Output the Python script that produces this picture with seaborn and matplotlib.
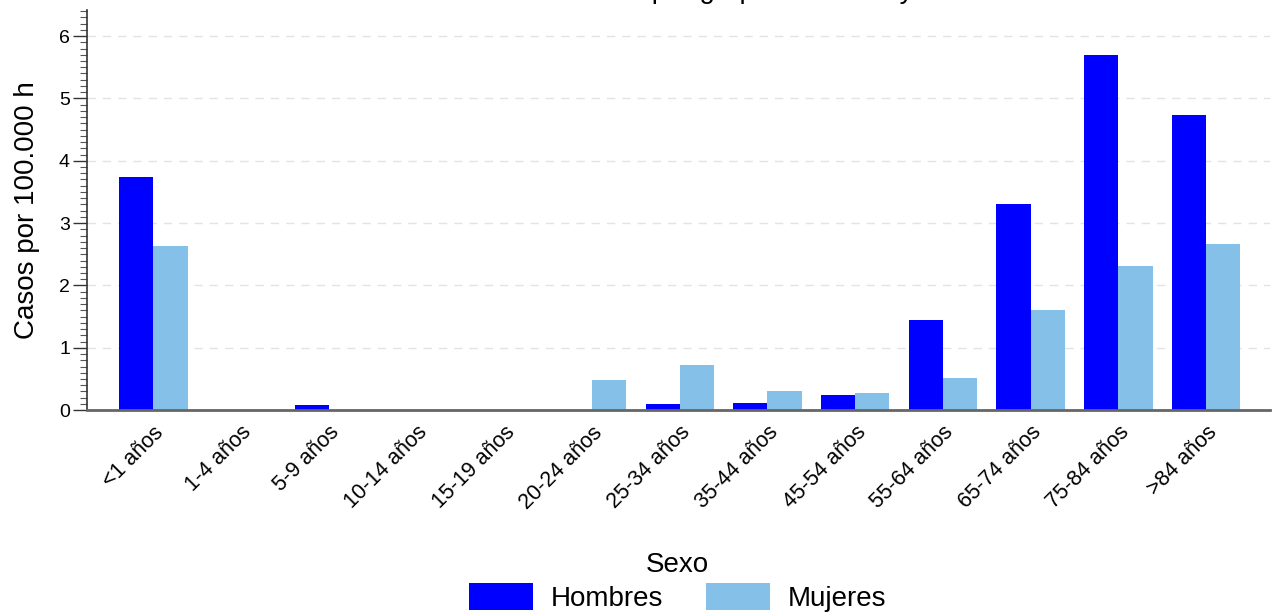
import matplotlib
matplotlib.use("Agg")
import matplotlib.pyplot as plt
import seaborn as sns
import pandas as pd
from matplotlib.ticker import MultipleLocator

categories = ["<1 años", "1-4 años", "5-9 años", "10-14 años", "15-19 años",
              "20-24 años", "25-34 años", "35-44 años", "45-54 años",
              "55-64 años", "65-74 años", "75-84 años", ">84 años"]
hombres = [3.74, 0.0, 0.08, 0.0, 0.0, 0.0, 0.10, 0.11, 0.24, 1.45, 3.30, 5.70, 4.74]
mujeres = [2.64, 0.0, 0.0, 0.0, 0.0, 0.48, 0.72, 0.30, 0.28, 0.51, 1.61, 2.31, 2.66]
series = ["Hombres", "Mujeres"]
colors = ["#0000FF", "#85C0E8"]

df = pd.DataFrame({
    "Grupo": categories * 2,
    "Sexo": [series[0]] * len(categories) + [series[1]] * len(categories),
    "Valor": hombres + mujeres,
})

sns.set_theme(style="white")
plt.rcParams["font.family"] = ["Liberation Sans", "DejaVu Sans"]
plt.rcParams["text.color"] = "black"
plt.rcParams["axes.labelcolor"] = "black"
plt.rcParams["xtick.color"] = "black"
plt.rcParams["ytick.color"] = "black"

fig = plt.figure(figsize=(12.74, 6.15), dpi=100)
ax = fig.add_axes([0.068, 0.333, 0.929, 0.651])

sns.barplot(data=df, x="Grupo", y="Valor", hue="Sexo", order=categories,
            hue_order=series, palette=colors, width=0.78, ax=ax,
            edgecolor="none", linewidth=0, saturation=1)

ax.set_xlim(-0.76, 12.73)
ax.set_ylim(0, 6.42)
ax.yaxis.set_major_locator(MultipleLocator(1))
ax.yaxis.set_minor_locator(MultipleLocator(0.1))
ax.tick_params(axis="y", which="major", left=True, length=10, width=1, color="#333333",
               labelsize=14, pad=2)
ax.tick_params(axis="y", which="minor", left=True, length=5, width=0.8, color="#555555")
ax.tick_params(axis="x", which="both", bottom=False, labelsize=15.5, pad=2.5)
for lab in ax.get_xticklabels():
    lab.set_rotation(45)
    lab.set_ha("right")
    lab.set_va("top")
    lab.set_rotation_mode("anchor")

ax.grid(axis="y", which="major", linestyle=(0, (6, 5)), color="#e3e3e3", linewidth=1)
ax.set_axisbelow(True)
for s in ["top", "right"]:
    ax.spines[s].set_visible(False)
ax.spines["left"].set_color("#333333")
ax.spines["left"].set_linewidth(1.2)
ax.spines["bottom"].set_color("#666666")
ax.spines["bottom"].set_linewidth(2)

ax.set_xlabel("")
ax.set_ylabel("Casos por 100.000 h", fontsize=20, labelpad=14)

handles, labels = ax.get_legend_handles_labels()
if ax.legend_:
    ax.legend_.remove()
fig.legend(handles, labels, title="Sexo", loc="lower center", bbox_to_anchor=(0.532, -0.018),
           ncol=2, frameon=False, fontsize=20, title_fontsize=20,
           handlelength=2.3, handleheight=1.1, handletextpad=0.63, columnspacing=1.55,
           labelspacing=0.2, borderaxespad=0.1)

fig.text(0.532, 1 + 2.5 / 615, "Incidencia acumulada por grupos de edad y sexo",
         ha="center", va="baseline", fontsize=20)

fig.savefig("out.png", dpi=100)
